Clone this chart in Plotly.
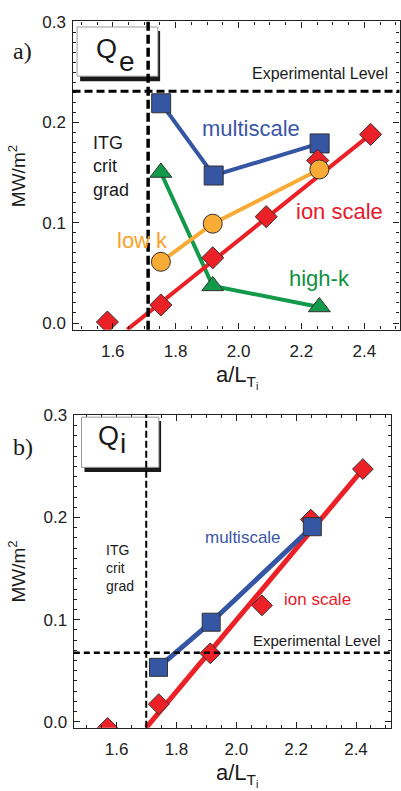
import plotly.graph_objects as go
import numpy as np

# ---------------- data (panel a: Qe) ----------------
a_ms_x = [1.754, 1.921, 2.258]
a_ms_y = [0.219, 0.147, 0.179]
a_ion_x = [1.583, 1.753, 1.918, 2.088, 2.252, 2.420]
a_ion_y = [0.001, 0.018, 0.065, 0.106, 0.162, 0.188]
a_fit_x = [1.646, 2.420]
a_fit_y = [-0.0066, 0.188]
a_lowk_x = [1.753, 1.918, 2.257]
a_lowk_y = [0.061, 0.099, 0.153]
a_highk_x = [1.753, 1.918, 2.257]
a_highk_y = [0.150, 0.037, 0.016]
a_crit = 1.7125
a_exp = 0.2309

# ---------------- data (panel b: Qi) ----------------
b_ms_x = [1.740, 1.916, 2.254]
b_ms_y = [0.0533, 0.0975, 0.191]
b_ion_x = [1.570, 1.741, 1.913, 2.086, 2.249, 2.423]
b_ion_y = [-0.006, 0.0173, 0.067, 0.114, 0.198, 0.2475]
b_fit_x = [1.699, 2.423]
b_fit_y = [-0.0058, 0.2475]
b_crit = 1.699
b_exp = 0.0677

x_ticks = [1.6, 1.8, 2.0, 2.2, 2.4]
x_ticklabels = ["1.6", "1.8", "2.0", "2.2", "2.4"]
y_ticks = [0.0, 0.1, 0.2, 0.3]
y_ticklabels = ["0.0", "0.1", "0.2", "0.3"]

W, H = 401, 791
def px(x):
    return x / W
def py(y):
    return 1 - y / H

BLUE = "#3556a3"
RED = "#ec2027"
ORANGE = "#f8ab35"
GREEN = "#12994a"
EDGE = "#333333"
FONT = "Liberation Sans, Arial, sans-serif"

fig = go.Figure()

def add_line_markers(xs, ys, color, symbol, size, xa, ya, lw=4, mode="lines+markers"):
    fig.add_trace(go.Scatter(
        x=xs, y=ys, mode=mode, xaxis=xa, yaxis=ya, showlegend=False,
        line=dict(color=color, width=lw),
        marker=dict(symbol=symbol, size=size, color=color, line=dict(color=EDGE, width=1)),
        hoverinfo="skip"))

# panel a
add_line_markers(a_ms_x, a_ms_y, BLUE, "square", 19, "x", "y")
add_line_markers(a_highk_x, a_highk_y, GREEN, "triangle-up", 19, "x", "y")
add_line_markers(a_fit_x, a_fit_y, RED, "diamond", 1, "x", "y", mode="lines")
add_line_markers(a_ion_x, a_ion_y, RED, "diamond", 17, "x", "y", mode="markers")
add_line_markers(a_lowk_x, a_lowk_y, ORANGE, "circle", 19, "x", "y")

# panel b
add_line_markers(b_fit_x, b_fit_y, RED, "diamond", 1, "x2", "y2", lw=5, mode="lines")
add_line_markers(b_ion_x, b_ion_y, RED, "diamond", 16, "x2", "y2", mode="markers")
add_line_markers(b_ms_x, b_ms_y, BLUE, "square", 18, "x2", "y2", lw=5)

def xaxis_cfg(domain, rng):
    return dict(domain=domain, range=rng, tickvals=x_ticks, ticktext=x_ticklabels,
                ticks="inside", ticklen=6, tickwidth=1, tickcolor="#222",
                minor=dict(dtick=0.05, tick0=1.5, ticks="inside", ticklen=3, tickcolor="#222"),
                showline=True, linecolor="#222", linewidth=1.3, mirror="ticks",
                showgrid=False, zeroline=False, ticklabelstandoff=6,
                tickfont=dict(family=FONT, size=17, color="#222"), fixedrange=True)

def yaxis_cfg(domain, rng):
    return dict(domain=domain, range=rng, tickvals=y_ticks, ticktext=y_ticklabels,
                ticks="inside", ticklen=6, tickwidth=1, tickcolor="#222",
                minor=dict(dtick=0.01, tick0=0, ticks="inside", ticklen=3, tickcolor="#222"),
                showline=True, linecolor="#222", linewidth=1.3, mirror="ticks",
                showgrid=False, zeroline=False, ticklabelstandoff=2,
                tickfont=dict(family=FONT, size=17, color="#222"), fixedrange=True)

fig.update_layout(
    width=W, height=H, margin=dict(l=0, r=0, t=0, b=0),
    paper_bgcolor="white", plot_bgcolor="white",
    xaxis=xaxis_cfg([px(72.7), px(400.5)], [1.472, 2.512]),
    yaxis=yaxis_cfg([py(326), py(12.7)], [-0.0066, 0.3005]),
    xaxis2=xaxis_cfg([px(74), px(391.7)], [1.457, 2.516]),
    yaxis2=yaxis_cfg([py(730.7), py(412.7)], [-0.0058, 0.3005]),
)
fig.layout.xaxis2.anchor = "y2"
fig.layout.yaxis2.anchor = "x2"

shapes = []
# Q boxes with shadow
def qbox(x0, y0, x1, y1, sx1, sy1):
    shapes.append(dict(type="rect", xref="paper", yref="paper", layer="above",
                       x0=px(x0 + 3), x1=px(sx1), y0=py(y0 + 4), y1=py(sy1),
                       fillcolor="#1a1a1a", line=dict(width=0)))
    shapes.append(dict(type="rect", xref="paper", yref="paper", layer="above",
                       x0=px(x0), x1=px(x1), y0=py(y0), y1=py(y1),
                       fillcolor="white", line=dict(color="#9a9a9a", width=1)))
qbox(77.3, 18.3, 158.3, 68.3, 160.5, 73.5)
qbox(81.7, 415, 159.3, 466, 161.5, 470.7)

# dashed reference lines
shapes.append(dict(type="line", xref="x", yref="y domain", x0=a_crit, x1=a_crit, y0=0, y1=1,
                   line=dict(color="black", width=3.5, dash="9px,4px"), layer="above"))
shapes.append(dict(type="line", xref="x domain", yref="y", x0=0, x1=1, y0=a_exp, y1=a_exp,
                   line=dict(color="black", width=3, dash="8px,4px"), layer="above"))
shapes.append(dict(type="line", xref="x2", yref="y2 domain", x0=b_crit, x1=b_crit, y0=0, y1=1,
                   line=dict(color="black", width=2, dash="7px,3px"), layer="above"))
shapes.append(dict(type="line", xref="x2 domain", yref="y2", x0=0, x1=1, y0=b_exp, y1=b_exp,
                   line=dict(color="black", width=2.5, dash="6px,4px"), layer="above"))
fig.update_layout(shapes=shapes)

anns = []
def txt(text, x, y, size, color="#1a1a1a", family=FONT, xanchor="center", yanchor="middle",
        align="center", angle=0):
    anns.append(dict(text=text, x=px(x), y=py(y), xref="paper", yref="paper", showarrow=False,
                     xanchor=xanchor, yanchor=yanchor, align=align, textangle=angle,
                     font=dict(family=family, size=size, color=color)))

# panel a texts
txt("a)", 23, 43, 24, family="Liberation Serif, DejaVu Serif, serif")
txt("Q", 106.7, 40.3, 27)
txt("e", 127.5, 53, 28)
txt("Experimental Level", 321, 66, 16)
txt("ITG<br>crit<br>grad", 91, 160, 18, xanchor="left", align="left")
txt("multiscale", 252, 122, 22, color="#3b57a6")
txt("ion scale", 340, 206, 22, color="#e8192c")
txt("low k", 143, 235, 22, color="#f7a22c")
txt("high-k", 320, 274, 22, color="#0f913e")
txt("MW/m<sup>2</sup>", 17, 170, 19, angle=-90)
txt("a/L<sub>T<sub>i</sub></sub>", 238, 374, 22)

# panel b texts
txt("b)", 23, 445, 24, family="Liberation Serif, DejaVu Serif, serif")
txt("Q", 109, 434, 27)
txt("i", 123, 442, 28)
txt("Experimental Level", 318, 642, 15)
txt("ITG<br>crit<br>grad", 104, 568, 14, xanchor="left", align="left")
txt("multiscale", 244, 537, 17, color="#3b57a6")
txt("ion scale", 318, 600, 17, color="#e8192c")
txt("MW/m<sup>2</sup>", 17, 572, 19, angle=-90)
txt("a/L<sub>T<sub>i</sub></sub>", 238, 779, 22)

fig.update_layout(annotations=anns)
fig.write_html("out.html")
